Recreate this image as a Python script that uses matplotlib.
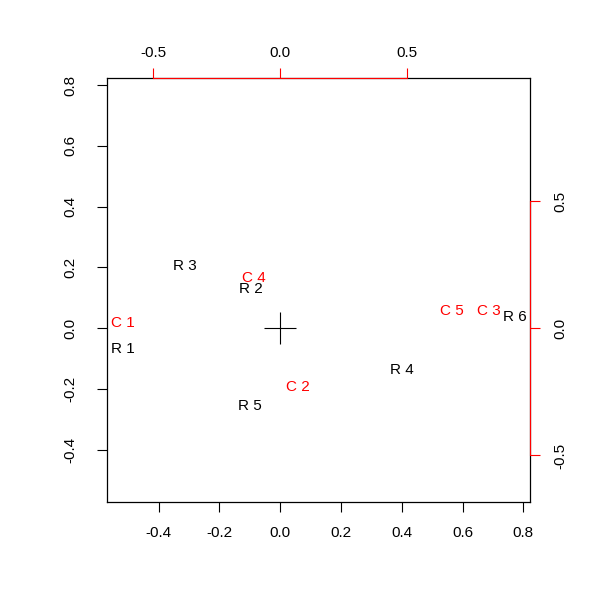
import matplotlib
matplotlib.use('Agg')
import matplotlib.pyplot as plt

plt.rcParams['font.family'] = ['Liberation Sans', 'DejaVu Sans']
plt.rcParams['axes.unicode_minus'] = False

# Row scores (black, bottom/left axes)
row_labels = ['R 1', 'R 2', 'R 3', 'R 4', 'R 5', 'R 6']
row_x = [-0.518, -0.095, -0.315, 0.400, -0.099, 0.772]
row_y = [-0.067, 0.130, 0.205, -0.136, -0.255, 0.038]

# Column scores (red, top/right axes)
col_labels = ['C 1', 'C 2', 'C 3', 'C 4', 'C 5']
col_x = [-0.619, 0.070, 0.820, -0.105, 0.675]
col_y = [0.022, -0.230, 0.070, 0.197, 0.070]

main_ticks = [-0.4, -0.2, 0.0, 0.2, 0.4, 0.6, 0.8]
sec_ticks = [-0.5, 0.0, 0.5]

xlim = (-0.569, 0.822)
ylim = (-0.572, 0.823)
ratio = 1.196
fs = 11

fig = plt.figure(figsize=(6, 6), dpi=100)
pos = [0.1788, 0.1628, 0.7045, 0.7072]

# main plot: rows
ax = fig.add_axes(pos)
ax.set_xlim(*xlim)
ax.set_ylim(*ylim)
for s in ax.spines.values():
    s.set_linewidth(0.9)
ax.set_xticks(main_ticks)
ax.set_yticks(main_ticks)
ax.set_xticklabels(['{:.1f}'.format(t) for t in main_ticks])
ax.set_yticklabels(['{:.1f}'.format(t) for t in main_ticks], rotation=90, va='center')
ax.tick_params(axis='x', length=7.2, width=0.8, pad=10, labelsize=fs)
ax.tick_params(axis='y', length=7.2, width=0.8, pad=14.5, labelsize=fs)
ax.plot(0, 0, marker='+', markersize=23, mew=0.8, color='black')
for lab, x, y in zip(row_labels, row_x, row_y):
    ax.text(x, y, lab, ha='center', va='center', fontsize=fs, color='black')

# secondary axes: columns
ax2 = fig.add_axes(pos)
ax2.patch.set_visible(False)
ax2.set_xlim(xlim[0] * ratio, xlim[1] * ratio)
ax2.set_ylim(ylim[0] * ratio, ylim[1] * ratio)
ax2.spines['left'].set_visible(False)
ax2.spines['bottom'].set_visible(False)
for side in ['top', 'right']:
    ax2.spines[side].set_color('red')
    ax2.spines[side].set_linewidth(0.8)
    ax2.spines[side].set_bounds(-0.5, 0.5)
ax2.xaxis.tick_top()
ax2.yaxis.tick_right()
ax2.set_xticks(sec_ticks)
ax2.set_yticks(sec_ticks)
ax2.set_xticklabels(['{:.1f}'.format(t) for t in sec_ticks])
ax2.set_yticklabels(['{:.1f}'.format(t) for t in sec_ticks], rotation=90, va='center')
ax2.tick_params(axis='x', colors='red', labelcolor='black', length=7.2, width=0.8, pad=6, labelsize=fs)
ax2.tick_params(axis='y', colors='red', labelcolor='black', length=7.2, width=0.8, pad=9.5, labelsize=fs)
for lab, x, y in zip(col_labels, col_x, col_y):
    ax2.text(x, y, lab, ha='center', va='center', fontsize=fs, color='red')

fig.savefig('out.png', dpi=100)
